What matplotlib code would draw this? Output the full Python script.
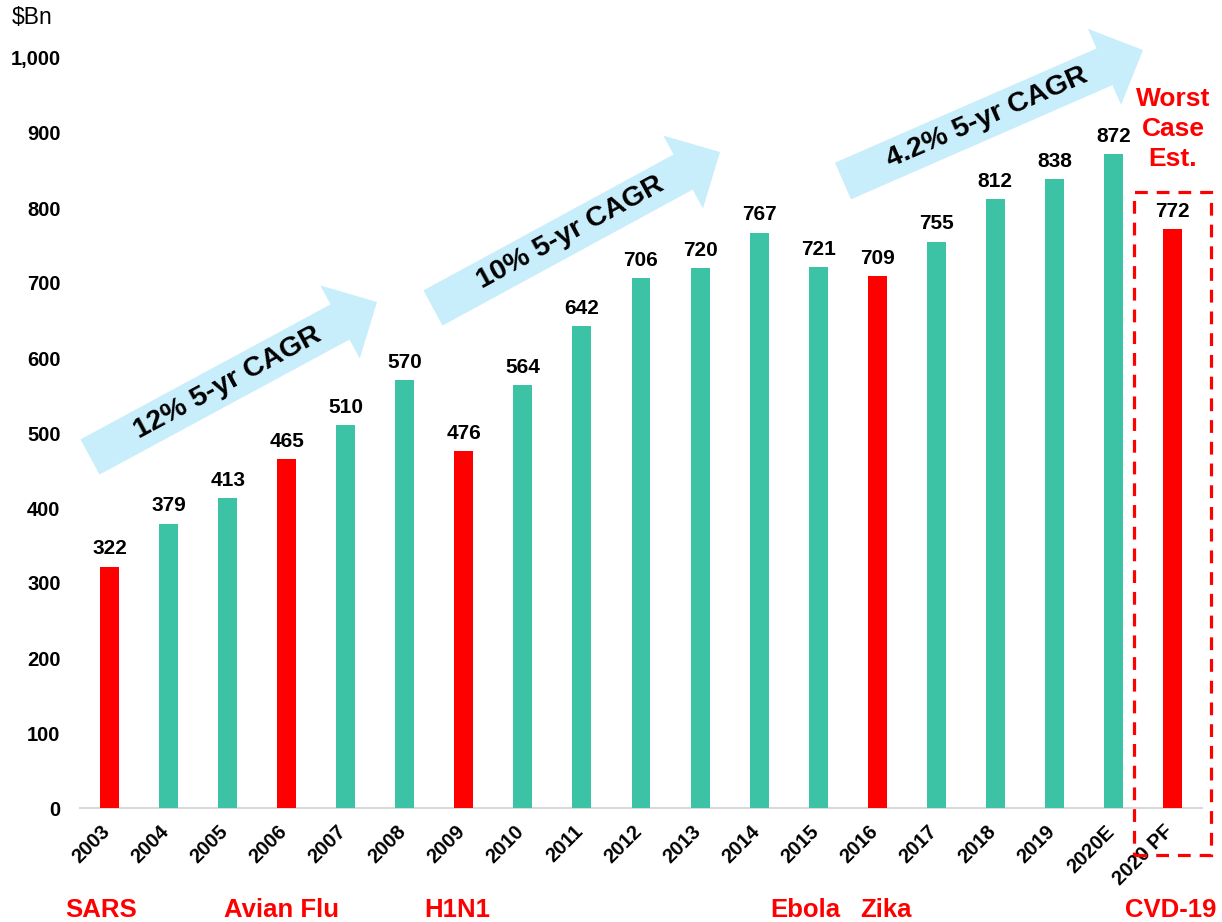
import numpy as np
import matplotlib
matplotlib.use("Agg")
import matplotlib.pyplot as plt
from matplotlib.patches import Polygon, Rectangle
from matplotlib.transforms import ScaledTranslation

plt.rcParams['font.family'] = ['Liberation Sans', 'DejaVu Sans']

# ---- data ----
years = ["2003", "2004", "2005", "2006", "2007", "2008", "2009", "2010", "2011",
         "2012", "2013", "2014", "2015", "2016", "2017", "2018", "2019", "2020E", "2020 PF"]
values = [322, 379, 413, 465, 510, 570, 476, 564, 642,
          706, 720, 767, 721, 709, 755, 812, 838, 872, 772]
outbreak_years = ["2003", "2006", "2009", "2016", "2020 PF"]
event_years = ["2003", "2006", "2009", "2015", "2016", "2020 PF"]
event_names = ["SARS", "Avian Flu", "H1N1", "Ebola", "Zika", "CVD-19"]
cagr_labels = ["12% 5-yr CAGR", "10% 5-yr CAGR", "4.2% 5-yr CAGR"]
yticks = [0, 100, 200, 300, 400, 500, 600, 700, 800, 900, 1000]

TEAL = "#3CC3A5"
RED = "#FF0000"
ARROW = "#C8EDFB"

W, H = 1222, 922
fig = plt.figure(figsize=(W / 100, H / 100), dpi=100)
ax = fig.add_axes([80 / W, (H - 808) / H, (1202 - 80) / W, 750 / H])

x = np.arange(len(years))
colors = [RED if y in outbreak_years else TEAL for y in years]
ax.bar(x, values, width=0.32, color=colors, zorder=3)

ax.set_xlim(-0.5, len(years) - 0.5)
ax.set_ylim(0, 1000)

for xi, v in zip(x, values):
    ax.annotate(f"{v}", (xi, v), xytext=(0, 6), textcoords="offset points",
                ha="center", va="bottom", fontsize=15, fontweight="bold", color="black")

# axes styling
for s in ("top", "right", "left"):
    ax.spines[s].set_visible(False)
ax.spines["bottom"].set_color("#D9D9D9")
ax.spines["bottom"].set_linewidth(1.5)
ax.set_yticks(yticks)
ax.set_yticklabels([f"{t:,}" for t in yticks], fontsize=14.5, fontweight="bold")
ax.tick_params(axis="y", length=0, pad=14)
ax.set_xticks(x)
ax.set_xticklabels(years, fontsize=14.5, fontweight="bold", rotation=45,
                   ha="right", va="top", rotation_mode="anchor")
ax.tick_params(axis="x", length=0, pad=10)
shift = ScaledTranslation(-9 / 100, 0, fig.dpi_scale_trans)
for lab in ax.get_xticklabels():
    lab.set_transform(lab.get_transform() + shift)

fig.text(12 / W, 1 - 18 / H, "$Bn", fontsize=16.5, ha="left", va="center")

# outbreak labels under the axis
nudge = {"SARS": -0.15, "Avian Flu": -0.09, "H1N1": -0.12, "Ebola": -0.21, "Zika": 0.15, "CVD-19": -0.03}
for yr, name in zip(event_years, event_names):
    ax.text(years.index(yr) + nudge[name], (808 - 910) / 750, name, transform=ax.get_xaxis_transform(),
            ha="center", va="center", fontsize=18.5, fontweight="bold", color=RED)

# dashed box around the worst-case bar
ax.add_patch(Rectangle((17.35, -63), 1.3, 884, fill=False, edgecolor=RED, linestyle=(0, (4, 2.8)),
                       linewidth=2.3, clip_on=False, zorder=4))
fig.text(1173 / W, 1 - 129 / H, "Worst\nCase\nEst.", ha="center", va="center", fontsize=19,
         fontweight="bold", color=RED, linespacing=1.3)


# growth arrows drawn in pixel space
def px(p):
    return (p[0] / W, 1 - p[1] / H)


def growth_arrow(tail, tip, label, shaft=40, head_w=83, head_l=42):
    tail = np.array(tail, float)
    tip = np.array(tip, float)
    d = tip - tail
    L = np.hypot(*d)
    u = d / L
    n = np.array([u[1], -u[0]])
    base = tip - head_l * u
    pts = [tail + n * shaft / 2, base + n * shaft / 2, base + n * head_w / 2, tip,
           base - n * head_w / 2, base - n * shaft / 2, tail - n * shaft / 2]
    fig.patches.append(Polygon([px(p) for p in pts], closed=True, transform=fig.transFigure,
                               facecolor=ARROW, edgecolor="none", zorder=1))
    ang = np.degrees(np.arctan2(-d[1], d[0]))
    c = tail + u * L * 0.48
    fig.text(*px(c), label, rotation=ang, rotation_mode="anchor", ha="center", va="center",
             fontsize=20.5, fontweight="bold", color="black", zorder=2)


growth_arrow((90, 457), (377, 302), cagr_labels[0])
growth_arrow((433, 308), (720, 152), cagr_labels[1])
growth_arrow((843, 181), (1143, 50), cagr_labels[2])

fig.savefig("out.png", dpi=100)
